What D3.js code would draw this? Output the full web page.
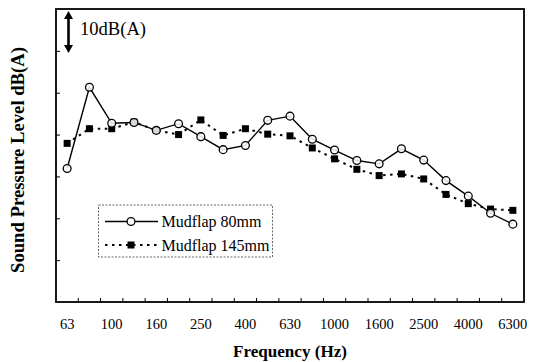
<!DOCTYPE html>
<html>
<head>
<meta charset="utf-8">
<script src="https://cdn.jsdelivr.net/npm/d3@7"></script>
<style>
  html, body { margin: 0; padding: 0; background: #fff; }
  svg { display: block; }
  text { font-family: "Liberation Serif", "Times New Roman", serif; fill: #000; }
</style>
</head>
<body>
<svg id="chart" width="538" height="362"></svg>
<script>
// One-third octave band centre frequencies (Hz)
const bands = ["63","80","100","125","160","200","250","315","400","500","630",
               "800","1000","1250","1600","2000","2500","3150","4000","5000","6300"];
// Labelled bands on the frequency axis
const bandLabels = ["63","100","160","250","400","630","1000","1600","2500","4000","6300"];
// A-weighted sound pressure level, dB(A)
const mudflap80  = [61.9,81.3,72.7,72.9,71.0,72.6,69.5,66.4,67.4,73.4,74.4,
                    68.9,66.3,63.8,63.0,66.6,63.9,59.0,55.3,51.2,48.6];
const mudflap145 = [67.9,71.4,71.4,73.0,71.0,70.0,73.5,69.8,71.4,70.1,69.7,
                    66.8,64.2,61.7,60.2,60.6,59.4,55.7,53.5,52.2,51.9];
// Level axis extent and the 10 dB scale bar
const levelDomain = [30, 100];
const levelTicks = [40, 50, 60, 70, 80, 90];
const scaleBar = [89.5, 99.5];
const seriesNames = ["Mudflap 80mm", "Mudflap 145mm"];

const svg = d3.select("#chart");
const plotLeft = 56, plotRight = 524, plotTop = 9, plotBottom = 302;

const x = d3.scaleBand().domain(bands).range([plotLeft, plotRight]).padding(0);
const y = d3.scaleLinear().domain(levelDomain).range([plotBottom, plotTop]);
const cx = d => x(d) + x.bandwidth() / 2;

// Frame
svg.append("rect")
  .attr("x", plotLeft).attr("y", plotTop)
  .attr("width", plotRight - plotLeft).attr("height", plotBottom - plotTop)
  .attr("fill", "none").attr("stroke", "#000").attr("stroke-width", 1.8);

// Level ticks (inward, unlabelled)
svg.append("g")
  .attr("transform", `translate(${plotLeft},0)`)
  .call(d3.axisLeft(y).tickValues(levelTicks).tickSize(-4).tickFormat(""))
  .call(g => g.select(".domain").remove())
  .call(g => g.selectAll("line").attr("stroke-width", 1));

// Band boundary ticks on the frequency axis (inward)
svg.append("g").selectAll("line")
  .data(bands.slice(1))
  .join("line")
  .attr("x1", d => x(d)).attr("x2", d => x(d))
  .attr("y1", plotBottom).attr("y2", plotBottom - 4)
  .attr("stroke", "#000").attr("stroke-width", 1);

// Frequency labels
svg.append("g")
  .attr("transform", `translate(0,${plotBottom})`)
  .call(d3.axisBottom(x).tickValues(bandLabels).tickSize(0).tickPadding(17))
  .call(g => g.select(".domain").remove())
  .call(g => g.selectAll("text")
    .style("font-family", '"Liberation Serif", serif')
    .style("font-size", "14.5px")
    .attr("fill", "#000"));

// Axis titles
svg.append("text")
  .attr("x", 290).attr("y", 357)
  .attr("text-anchor", "middle")
  .attr("font-weight", "bold").attr("font-size", 16)
  .attr("textLength", 114).attr("lengthAdjust", "spacingAndGlyphs")
  .text("Frequency (Hz)");

svg.append("text")
  .attr("transform", "translate(24,160) rotate(-90)")
  .attr("text-anchor", "middle")
  .attr("font-weight", "bold").attr("font-size", 18.5)
  .attr("textLength", 226).attr("lengthAdjust", "spacingAndGlyphs")
  .text("Sound Pressure Level dB(A)");

// 10 dB(A) scale bar: double-headed arrow
const ax = 68.5, yTop = y(scaleBar[1]), yBot = y(scaleBar[0]);
const hw = 4.5, hh = 8;
const arrow = svg.append("g");
arrow.append("line")
  .attr("x1", ax).attr("x2", ax)
  .attr("y1", yTop + hh - 1).attr("y2", yBot - hh + 1)
  .attr("stroke", "#000").attr("stroke-width", 2.6);
arrow.append("path")
  .attr("d", `M${ax},${yTop} L${ax - hw},${yTop + hh} L${ax + hw},${yTop + hh} Z`)
  .attr("fill", "#000");
arrow.append("path")
  .attr("d", `M${ax},${yBot} L${ax - hw},${yBot - hh} L${ax + hw},${yBot - hh} Z`)
  .attr("fill", "#000");
svg.append("text")
  .attr("x", 80).attr("y", 34.5)
  .attr("font-size", 18)
  .attr("textLength", 66).attr("lengthAdjust", "spacingAndGlyphs")
  .text("10dB(A)");

// Series lines
const line = d3.line().x(d => cx(d.band)).y(d => y(d.v));
const pts80 = bands.map((b, i) => ({ band: b, v: mudflap80[i] }));
const pts145 = bands.map((b, i) => ({ band: b, v: mudflap145[i] }));

svg.append("path")
  .datum(pts145)
  .attr("d", line)
  .attr("fill", "none").attr("stroke", "#000")
  .attr("stroke-width", 2).attr("stroke-dasharray", "2.5,4.5");

svg.append("path")
  .datum(pts80)
  .attr("d", line)
  .attr("fill", "none").attr("stroke", "#000").attr("stroke-width", 1.4);

// Markers: filled squares (145 mm), open circles (80 mm)
const sq = 7;
svg.append("g").selectAll("rect")
  .data(pts145)
  .join("rect")
  .attr("x", d => cx(d.band) - sq / 2).attr("y", d => y(d.v) - sq / 2)
  .attr("width", sq).attr("height", sq)
  .attr("fill", "#000");

svg.append("g").selectAll("circle")
  .data(pts80)
  .join("circle")
  .attr("cx", d => cx(d.band)).attr("cy", d => y(d.v))
  .attr("r", 3.9)
  .attr("fill", "#fff").attr("fill-opacity", 0.85)
  .attr("stroke", "#000").attr("stroke-width", 1.3);

// Legend
const lg = svg.append("g");
lg.append("rect")
  .attr("x", 98.5).attr("y", 205)
  .attr("width", 174).attr("height", 52)
  .attr("fill", "#fff").attr("stroke", "#555")
  .attr("stroke-width", 0.9).attr("stroke-dasharray", "2,1.5");

const rowY = [221.5, 245];
lg.append("line")
  .attr("x1", 105).attr("x2", 158).attr("y1", rowY[0]).attr("y2", rowY[0])
  .attr("stroke", "#000").attr("stroke-width", 1.4);
lg.append("circle")
  .attr("cx", 131).attr("cy", rowY[0]).attr("r", 3.9)
  .attr("fill", "#fff").attr("stroke", "#000").attr("stroke-width", 1.3);
lg.append("line")
  .attr("x1", 105).attr("x2", 158).attr("y1", rowY[1]).attr("y2", rowY[1])
  .attr("stroke", "#000").attr("stroke-width", 2).attr("stroke-dasharray", "2.5,4.5");
lg.append("rect")
  .attr("x", 131 - sq / 2).attr("y", rowY[1] - sq / 2)
  .attr("width", sq).attr("height", sq).attr("fill", "#000");

lg.selectAll("text.lab")
  .data(seriesNames)
  .join("text")
  .attr("class", "lab")
  .attr("x", 161.5).attr("y", (d, i) => rowY[i] + 5.5)
  .attr("font-size", 16)
  .text(d => d);
</script>
</body>
</html>
